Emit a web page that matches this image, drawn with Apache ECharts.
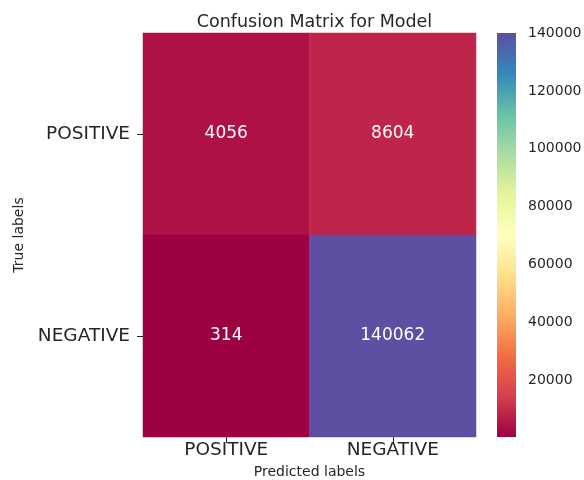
<!DOCTYPE html>
<html>
<head>
<meta charset="utf-8">
<script src="https://cdn.jsdelivr.net/npm/echarts@6/dist/echarts.min.js"></script>
<style>html,body{margin:0;padding:0;background:#fff}#c{width:584px;height:480px}</style>
</head>
<body>
<div id="c"></div>
<script>
const predictedLabels = ['POSITIVE', 'NEGATIVE'];
const trueLabels = ['POSITIVE', 'NEGATIVE'];
// rows = true label, columns = predicted label
const rowPositive = [4056, 8604];
const rowNegative = [314, 140062];
const colorbarTicks = [20000, 40000, 60000, 80000, 100000, 120000, 140000];
const spectral = ['#9e0142','#d53e4f','#f46d43','#fdae61','#fee08b','#ffffbf','#e6f598','#abdda4','#66c2a5','#3288bd','#5e4fa2'];

const rows = [rowPositive, rowNegative];
const data = [];
rows.forEach((r, yi) => r.forEach((v, xi) => data.push([xi, yi, v])));
const allVals = data.map(d => d[2]);
const vmin = Math.min(...allVals), vmax = Math.max(...allVals);

const FONT = 'DejaVu Sans';
const TXT = '#262626';
const chart = echarts.init(document.getElementById('c'), null, {renderer: 'canvas'});

const cb = {left: 497, top: 33, width: 19, height: 404};

chart.setOption({
  animation: false,
  textStyle: {fontFamily: FONT},
  title: {
    text: 'Confusion Matrix for Model',
    left: 309.5, top: 8, textAlign: 'center',
    textStyle: {fontFamily: FONT, fontSize: 17.5, fontWeight: 'normal', color: TXT}
  },
  grid: [
    {left: 143, top: 33, width: 333, height: 404, containLabel: false, outerBoundsMode: 'none'},
    {left: cb.left, top: cb.top, width: cb.width, height: cb.height, containLabel: false, outerBoundsMode: 'none'}
  ],
  xAxis: [
    {
      type: 'category', data: predictedLabels, gridIndex: 0,
      name: 'Predicted labels', nameLocation: 'middle', nameGap: 25,
      nameTextStyle: {fontFamily: FONT, fontSize: 14, color: TXT},
      axisLine: {show: false},
      axisTick: {show: true, alignWithLabel: true, length: 6, lineStyle: {color: TXT}},
      axisLabel: {fontFamily: FONT, fontSize: 18.5, color: TXT, margin: 4},
      splitLine: {show: false}
    },
    {type: 'value', gridIndex: 1, show: false}
  ],
  yAxis: [
    {
      type: 'category', data: trueLabels, gridIndex: 0, inverse: true,
      name: 'True labels', nameLocation: 'middle', nameGap: 117, nameRotate: 90,
      nameTextStyle: {fontFamily: FONT, fontSize: 14, color: TXT},
      axisLine: {show: false},
      axisTick: {show: true, alignWithLabel: true, length: 6, lineStyle: {color: TXT}},
      axisLabel: {fontFamily: FONT, fontSize: 18.5, color: TXT, margin: 13},
      splitLine: {show: false}
    },
    {
      type: 'value', gridIndex: 1, position: 'right', min: vmin, max: vmax,
      axisLine: {show: false},
      axisTick: {show: true, length: 6, customValues: colorbarTicks, lineStyle: {color: TXT}},
      axisLabel: {fontFamily: FONT, fontSize: 14, color: TXT, margin: 12,
        customValues: colorbarTicks, formatter: v => String(v)},
      splitLine: {show: false}
    }
  ],
  visualMap: {
    show: false, type: 'continuous', min: vmin, max: vmax, dimension: 2, seriesIndex: 0,
    inRange: {color: spectral}
  },
  graphic: [{
    type: 'rect', z: 1,
    shape: {x: cb.left, y: cb.top, width: cb.width, height: cb.height},
    style: {
      fill: new echarts.graphic.LinearGradient(0, 1, 0, 0,
        spectral.map((c, i) => ({offset: i / (spectral.length - 1), color: c})))
    }
  }],
  series: [{
    type: 'heatmap', xAxisIndex: 0, yAxisIndex: 0, data: data,
    label: {show: true, color: '#ffffff', fontFamily: FONT, fontSize: 17,
      formatter: p => String(p.value[2])},
    itemStyle: {borderWidth: 0},
    emphasis: {disabled: true}
  }]
});
</script>
</body>
</html>
